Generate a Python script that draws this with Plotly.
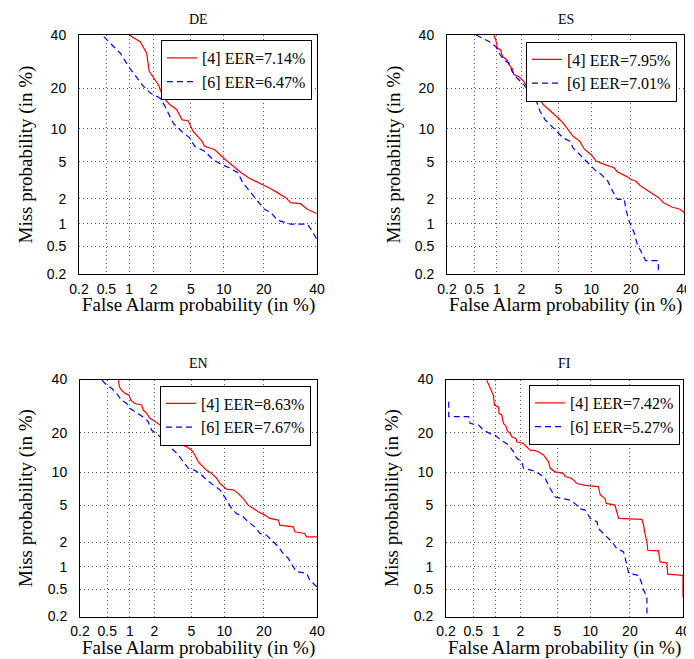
import plotly.graph_objects as go
from statistics import NormalDist

# ---------------- data (percent) ----------------
tick_vals = [0.2, 0.5, 1, 2, 5, 10, 20, 40]
tick_text = ["0.2", "0.5", "1", "2", "5", "10", "20", "40"]
axis_min, axis_max = 0.2, 40

panel_names = ["DE", "ES", "EN", "FI"]
eer_4 = [7.14, 7.95, 8.63, 7.42]
eer_6 = [6.47, 7.01, 7.67, 5.27]

de_fa_4 = [1.0, 1.38, 1.65, 1.77, 2.26, 2.42, 2.72, 3.04, 3.58, 4.09, 4.70, 5.26, 6.40, 6.77, 8.33, 9.2, 10.5,
           12.2, 13.8, 15.9, 18.7, 21.7, 24.5, 27.5, 29.3, 33.2, 35.9, 39.4, 40]
de_miss_4 = [40, 37.2, 32.5, 25.7, 21.2, 19.1, 16.7, 15.4, 14.2, 11.8, 11.6, 9.5, 7.8, 7.0, 6.55, 5.87, 5.14,
             4.42, 3.87, 3.38, 3.03, 2.68, 2.36, 2.07, 1.81, 1.76, 1.51, 1.34, 1.34]
de_fa_6 = [0.46, 0.60, 0.77, 0.99, 1.25, 1.51, 1.81, 2.36, 2.68, 3.30, 4.02, 4.87, 5.46, 6.77, 8.06, 9.5, 11.1,
           13.0, 14.2, 15.9, 18.7, 20.2, 22.3, 24.5, 29.3, 35.9, 37.9, 40]
de_miss_6 = [39.3, 35.9, 32.5, 27.4, 23.4, 20.7, 18.7, 17.2, 15.0, 11.1, 9.5, 8.33, 7.0, 6.3, 5.26, 4.70, 4.35,
             3.87, 3.03, 2.46, 1.81, 1.51, 1.38, 1.11, 0.99, 0.99, 0.81, 0.62]

es_fa_4 = [0.92, 0.97, 1.02, 1.12, 1.18, 1.35, 1.42, 1.55, 1.63, 1.86, 2.13, 2.42, 2.75, 3.12, 3.52, 4.28, 4.99,
           5.58, 6.23, 6.92, 7.94, 8.78, 10.0, 11.0, 12.8, 15.2, 16.1, 18.5, 19.9, 21.5, 23.2, 24.9, 27.2, 29.7,
           31.6, 34.9, 38.3, 40]
es_miss_4 = [40, 37.9, 34.5, 33.8, 31.2, 29.9, 28.1, 26.8, 24.5, 23.9, 22.3, 19.6, 18.7, 17.2, 15.4, 13.7, 12.2,
             11.1, 9.8, 8.6, 7.8, 6.55, 5.87, 5.07, 4.70, 4.35, 3.96, 3.57, 3.30, 3.17, 2.79, 2.57, 2.36, 2.07,
             1.81, 1.61, 1.51, 1.38]
es_fa_6 = [0.53, 0.80, 0.97, 1.07, 1.23, 1.42, 1.55, 1.78, 2.13, 2.52, 2.87, 3.24, 3.67, 4.28, 4.99, 5.58, 6.45,
           6.92, 7.94, 8.78, 10.0, 11.0, 12.1, 13.6, 14.8, 16.1, 18.0, 18.5, 19.4, 21.0, 22.0, 24.9, 29.5, 29.8]
es_miss_6 = [40, 37.2, 35.2, 32.5, 29.9, 28.7, 25.7, 23.4, 21.2, 18.7, 17.2, 13.7, 11.8, 10.5, 9.2, 8.33, 7.8,
             6.77, 5.87, 5.26, 4.52, 4.02, 3.72, 3.17, 2.46, 1.98, 1.98, 1.51, 1.09, 0.77, 0.54, 0.315, 0.315, 0.1]

en_fa_4 = [0.71, 0.73, 0.78, 0.87, 0.98, 1.03, 1.16, 1.41, 1.47, 1.62, 1.77, 1.94, 2.32, 2.64, 2.87, 3.12, 3.53,
           3.98, 4.48, 5.03, 5.42, 5.84, 6.52, 7.0, 7.78, 8.61, 9.2, 9.84, 10.5, 11.9, 13.0, 14.2, 15.5, 16.9,
           18.3, 20.3, 21.9, 24.8, 25.3, 30.3, 30.9, 34.9, 35.6, 40]
en_miss_4 = [39.7, 36.9, 35.5, 34.2, 33.5, 31.5, 30.2, 29.6, 27.7, 26.5, 24.7, 24.1, 22.4, 20.8, 19.7, 17.7, 16.8,
             16.4, 15.9, 15.0, 13.8, 12.2, 11.1, 10.4, 9.8, 8.9, 8.0, 7.5, 7.1, 7.0, 6.5, 5.82, 5.0, 4.64,
             4.29, 3.96, 3.66, 3.51, 3.10, 2.97, 2.62, 2.51, 2.30, 2.30]
en_fa_6 = [0.42, 0.49, 0.58, 0.67, 0.78, 0.91, 1.01, 1.16, 1.34, 1.55, 1.69, 1.85, 2.12, 2.42, 2.87, 3.25, 3.68,
           4.15, 4.66, 5.42, 6.29, 7.0, 8.05, 9.2, 10.5, 11.5, 12.6, 14.2, 15.5, 17.3, 18.8, 20.8, 22.5, 24.8,
           26.5, 28.4, 30.3, 31.6, 35.6, 37.0, 40]
en_miss_6 = [39.7, 37.6, 36.2, 34.2, 31.5, 30.2, 28.3, 27.1, 25.9, 24.7, 23.5, 20.8, 19.7, 18.2, 16.4, 15.0, 13.8,
             12.2, 10.8, 10.4, 9.5, 8.6, 7.7, 7.0, 5.6, 4.64, 4.12, 3.80, 3.36, 2.97, 2.51, 2.40, 2.10, 1.76,
             1.46, 1.27, 0.996, 0.86, 0.82, 0.66, 0.54]

fi_fa_4 = [0.76, 0.84, 0.93, 0.96, 1.08, 1.10, 1.19, 1.25, 1.35, 1.38, 1.51, 1.58, 1.78, 1.81, 2.17, 2.58, 2.93,
           3.19, 3.61, 4.07, 4.24, 4.76, 5.74, 5.96, 6.79, 7.13, 7.65, 9.06, 11.7, 12.1, 13.2, 13.5, 15.7, 16.2,
           16.7, 23.9, 24.5, 25.0, 25.7, 26.0, 30.0, 30.6, 33.3, 33.6, 40, 40]
fi_miss_4 = [39.7, 36.9, 33.5, 29.6, 28.9, 26.5, 25.9, 23.0, 21.9, 20.8, 19.7, 18.7, 18.2, 17.3, 16.8, 15.0, 14.9,
             14.6, 13.8, 12.2, 10.8, 10.1, 9.8, 9.2, 8.9, 8.6, 8.0, 7.7, 7.5, 6.3, 5.8, 5.2, 5.0, 4.29,
             3.66, 3.57, 3.10, 2.51, 2.01, 1.60, 1.57, 1.15, 1.12, 0.80, 0.77, 0.39]
fi_fa_6 = [0.22, 0.22, 0.43, 0.45, 0.59, 0.69, 0.84, 0.98, 1.10, 1.25, 1.44, 1.66, 1.81, 2.08, 2.17, 2.70, 3.19,
           3.75, 4.23, 4.76, 6.65, 7.65, 7.92, 9.06, 10.0, 11.4, 11.7, 13.2, 14.9, 16.2, 18.1, 19.1, 19.6, 22.8,
           23.9, 24.5, 25.7, 25.7]
fi_miss_6 = [30.9, 25.3, 25.3, 23.0, 22.4, 20.8, 19.7, 19.2, 18.2, 17.3, 16.4, 14.6, 13.0, 12.2, 10.8, 10.4, 9.8,
             8.9, 7.2, 6.0, 5.6, 5.0, 4.64, 4.46, 3.66, 3.37, 2.85, 2.40, 2.01, 1.68, 1.53, 1.04, 0.82, 0.77,
             0.60, 0.49, 0.39, 0.1]

fa_4 = [de_fa_4, es_fa_4, en_fa_4, fi_fa_4]
miss_4 = [de_miss_4, es_miss_4, en_miss_4, fi_miss_4]
fa_6 = [de_fa_6, es_fa_6, en_fa_6, fi_fa_6]
miss_6 = [de_miss_6, es_miss_6, en_miss_6, fi_miss_6]

# ---------------- helpers ----------------
_nd = NormalDist()


def probit(pcts):
    return [_nd.inv_cdf(v / 100.0) for v in pcts]


# The page body has an 8px margin, so the figure is drawn offset by 8px.
OFF = 8
W, H = 694 - OFF, 659 - OFF
SERIF = "Liberation Serif, Times New Roman, serif"
SANS = "Liberation Sans, Arial, Helvetica, sans-serif"

# plot-area boxes in screen pixels (left, right, top, bottom)
boxes = [(79, 317, 35, 274), (447, 684, 35, 274), (80, 317, 379.5, 616.5), (446, 683, 379.5, 616.5)]
legend_pos = [(312, 40), (677, 41.5), (311, 385.5), (680, 385)]


def px(x):
    return (x - OFF) / W


def py(y):
    return 1 - (y - OFF) / H


fig = go.Figure()
layout = dict(
    width=W, height=H, margin=dict(l=0, r=0, t=0, b=0, autoexpand=False),
    paper_bgcolor="white", plot_bgcolor="white", showlegend=True,
)
annotations = []
rng = probit([axis_min, axis_max])
tv = probit(tick_vals)

for i in range(4):
    n = i + 1
    sfx = "" if n == 1 else str(n)
    xa, ya = "x" + sfx, "y" + sfx
    leg = "legend" + sfx
    L, R, T, B = boxes[i]
    fig.add_trace(go.Scatter(
        x=probit(fa_4[i]), y=probit(miss_4[i]), mode="lines",
        line=dict(color="#ff0000", width=1.2),
        name=f"[4] EER={eer_4[i]:.2f}%", xaxis=xa, yaxis=ya, legend=leg))
    fig.add_trace(go.Scatter(
        x=probit(fa_6[i]), y=probit(miss_6[i]), mode="lines",
        line=dict(color="#0000ff", width=1.2, dash="6px,4px"),
        name=f"[6] EER={eer_6[i]:.2f}%", xaxis=xa, yaxis=ya, legend=leg))

    common = dict(
        range=rng, tickvals=tv, ticktext=tick_text, showgrid=True,
        gridcolor="#555555", gridwidth=1, griddash="1px,3px", zeroline=False,
        showline=True, linecolor="black", linewidth=1, mirror=True,
        ticks="", tickfont=dict(family=SANS, size=14, color="black"),
        fixedrange=True, automargin=False,
    )
    layout["xaxis" + sfx] = dict(common, domain=[px(L), px(R)], anchor=ya, ticklabelstandoff=2)
    layout["yaxis" + sfx] = dict(common, domain=[py(B), py(T)], anchor=xa, ticklabelstandoff=9)
    lx, ly = legend_pos[i]
    layout[leg] = dict(
        x=px(lx), y=py(ly), xanchor="right", yanchor="top",
        bgcolor="white", bordercolor="black", borderwidth=1,
        font=dict(family=SERIF, size=16, color="black"),
        tracegroupgap=0, itemwidth=30,
    )
    cx = (L + R) / 2
    cy = (T + B) / 2
    annotations.append(dict(text=panel_names[i], x=px(cx), y=py(T - 16), xref="paper", yref="paper",
                            showarrow=False, xanchor="center", yanchor="middle",
                            font=dict(family=SERIF, size=14, color="black")))
    annotations.append(dict(text="False Alarm probability (in %)", x=px(cx), y=py(B + 31),
                            xref="paper", yref="paper", showarrow=False, xanchor="center", yanchor="middle",
                            font=dict(family=SERIF, size=19, color="black")))
    annotations.append(dict(text="Miss probability (in %)", x=px(L - 54), y=py(cy),
                            xref="paper", yref="paper", showarrow=False, xanchor="center", yanchor="middle",
                            textangle=-90, font=dict(family=SERIF, size=19, color="black")))

layout["annotations"] = annotations
fig.update_layout(**layout)
fig.write_html("out.html")
